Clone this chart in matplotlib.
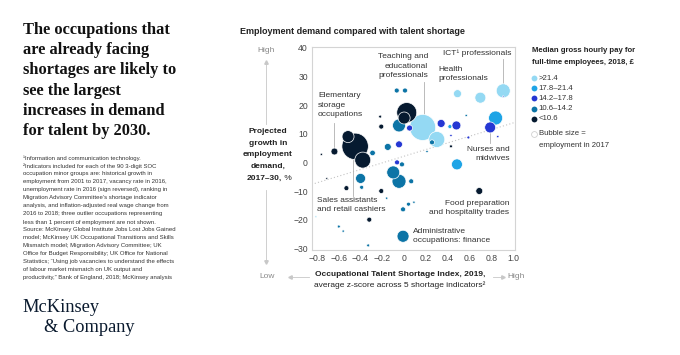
import matplotlib
matplotlib.use("Agg")
import matplotlib.pyplot as plt
from matplotlib.lines import Line2D
import numpy as np

# ---------------- data ----------------
pay_bands = [">21.4", "17.8–21.4", "14.2–17.8", "10.6–14.2", "<10.6"]
band_colors = ["#94d9f3", "#1ea4e6", "#2537d3", "#0c74a6", "#061a30"]

# Occupational Talent Shortage Index (x), projected growth % (y),
# employment 2017 (thousands), pay band index
shortage_index = [-0.068, 0.008, 0.024, 0.0, 0.17, 0.30, 0.256, 0.49, 0.70, 0.91,
                  0.91, 0.84, 0.79, -0.22, -0.21, -0.047, 0.34, 0.42, 0.48, 0.57,
                  0.86, -0.515, -0.45, -0.38, -0.64, -0.76, -0.29, -0.15, -0.047, -0.10,
                  -0.047, -0.065, -0.02, 0.065, -0.71, -0.40, -0.39, -0.53, -0.21, -0.16,
                  0.04, 0.09, -0.01, -0.32, -0.60, -0.56, -0.01, -0.33, 0.485, 0.43,
                  0.69, 0.43, 0.59, 0.21, -0.81, 0.05]
demand_growth = [25.1, 25.1, 17.4, 15.5, 12.2, 8.0, 7.0, 24.0, 22.6, 25.0,
                 23.0, 15.5, 12.2, 16.0, 12.5, 12.9, 13.6, 12.5, 12.9, 16.4,
                 9.0, 9.0, 5.6, 0.8, 3.8, 2.8, 3.3, 5.4, 6.3, -3.5,
                 -6.6, 0.0, -0.7, -6.6, -5.6, -5.6, -8.7, -9.0, -10.0, -12.5,
                 -14.6, -13.9, -16.4, -20.0, -22.4, -24.0, -25.8, -29.0, -0.7, 5.6,
                 -10.0, 9.4, 8.7, 3.8, -19.0, 12.0]
employment_k = [62, 62, 1000, 360, 1690, 640, 62, 160, 300, 490,
                6, 490, 300, 22, 62, 420, 160, 40, 200, 14,
                14, 360, 1750, 640, 120, 14, 78, 120, 120, 420,
                490, 62, 62, 62, 10, 250, 40, 62, 62, 14,
                40, 14, 62, 62, 22, 14, 360, 22, 300, 22,
                120, 14, 22, 14, 10, 90]
pay_band = [3, 3, 4, 4, 0, 0, 3, 0, 0, 0,
            2, 1, 2, 4, 4, 3, 2, 1, 2, 3,
            2, 4, 4, 4, 4, 4, 3, 3, 2, 3,
            3, 2, 3, 3, 4, 3, 3, 4, 4, 3,
            3, 3, 3, 4, 3, 3, 3, 3, 1, 4,
            4, 2, 2, 3, 0, 2]

trend_x = [-0.85, 1.02]
trend_y = [-7.7, 14.0]

x_ticks = [-0.8, -0.6, -0.4, -0.2, 0, 0.2, 0.4, 0.6, 0.8, 1.0]
y_ticks = [-30, -20, -10, 0, 10, 20, 30, 40]

annotations = [
    ("Teaching and\neducational\nprofessionals", 0.219, 33.6, "right"),
    ("ICT¹ professionals", 0.981, 38.0, "right"),
    ("Health\nprofessionals", 0.311, 30.8, "left"),
    ("Elementary\nstorage\noccupations", -0.791, 20.0, "left"),
    ("Sales assistants\nand retail cashiers", -0.80, -15.0, "left"),
    ("Nurses and\nmidwives", 0.972, 2.8, "right"),
    ("Food preparation\nand hospitality trades", 0.963, -16.0, "right"),
    ("Administrative\noccupations: finance", 0.08, -25.6, "left"),
]
leaders = [
    ([0.183, 0.183], [28.0, 16.4]),
    ([0.908, 0.908], [36.0, 27.5]),
    ([-0.644, -0.644], [13.6, 5.0]),
    ([-0.47, -0.47], [1.0, -11.6]),
    ([0.79, 0.79], [10.2, 6.6]),
]

headline = ["The occupations that", "are already facing", "shortages are likely to",
            "see the largest", "increases in demand", "for talent by 2030."]
footnotes = [
    "¹Information and communication technology.",
    "²Indicators included for each of the 90 3-digit SOC",
    "occupation minor groups are: historical growth in",
    "employment from 2001 to 2017, vacancy rate in 2016,",
    "unemployment rate in 2016 (sign reversed), ranking in",
    "Migration Advisory Committee’s shortage indicator",
    "analysis, and inflation-adjusted real wage change from",
    "2016 to 2018; three outlier occupations representing",
    "less than 1 percent of employment are not shown.",
    "Source: McKinsey Global Institute Jobs Lost Jobs Gained",
    "model; McKinsey UK Occupational Transitions and Skills",
    "Mismatch model; Migration Advisory Committee; UK",
    "Office for Budget Responsibility; UK Office for National",
    "Statistics; “Using job vacancies to understand the effects",
    "of labour market mismatch on UK output and",
    "productivity,” Bank of England, 2018; McKinsey analysis",
]

# ---------------- figure ----------------
W, H = 680, 355
plt.rcParams['font.family'] = ['Liberation Sans', 'DejaVu Sans']
fig = plt.figure(figsize=(W / 100, H / 100), dpi=100)
fig.patch.set_facecolor("white")


def fx(px):
    return px / W


def fy(py):
    return 1 - py / H


SANS = ['Liberation Sans', 'DejaVu Sans']
SERIF = ['Liberation Serif', 'DejaVu Serif']
TXT = "#222222"
GRAY = "#8a8a8a"

# headline
for i, line in enumerate(headline):
    fig.text(fx(23), fy(30 + i * 20.2), line, family=SERIF, fontweight="bold",
             fontsize=11.8, color="#111111", va="center", ha="left")

# footnotes
for i, line in enumerate(footnotes):
    fig.text(fx(23), fy(158 + i * 8.0), line, family=SANS, fontsize=4.3,
             color="#333333", va="center", ha="left")

# logo
fig.text(fx(22), fy(308), "McKinsey", family=SERIF, fontsize=13.2, color="#0a1a2e",
         va="center", ha="left")
fig.text(fx(44), fy(327), "& Company", family=SERIF, fontsize=13.2, color="#0a1a2e",
         va="center", ha="left")

# chart title
fig.text(fx(240), fy(31), "Employment demand compared with talent shortage",
         family=SANS, fontweight="bold", fontsize=6.5, color=TXT, va="center", ha="left")

# axes
ax = fig.add_axes([fx(312), fy(250), fx(515) - fx(312), fy(47) - fy(250)])
ax.set_xlim(-0.846, 1.018)
ax.set_ylim(-30.6, 40.3)
for sp in ax.spines.values():
    sp.set_color("#d4d4d4")
    sp.set_linewidth(0.8)
ax.set_xticks(x_ticks)
ax.set_xticklabels([("−" if v < 0 else "") + (f"{abs(v):.1f}" if v != 0 else "0")
                    for v in x_ticks])
ax.set_yticks(y_ticks)
ax.set_yticklabels([("−" if v < 0 else "") + str(abs(v)) for v in y_ticks])
ax.tick_params(length=0, labelsize=6.2, labelcolor="#444444", pad=3)

ax.plot(trend_x, trend_y, linestyle=(0, (1, 2)), color="#c4c4c4", lw=0.8, zorder=1)

sx = np.array(shortage_index)
sy = np.array(demand_growth)
se = np.array(employment_k, dtype=float)
sb = np.array(pay_band)
order = np.argsort(-se)
ax.scatter(sx[order], sy[order], s=se[order] * 0.207,
           c=[band_colors[b] for b in sb[order]],
           edgecolors="white", linewidths=0.5, zorder=2)

for (lx, ly) in leaders:
    ax.plot(lx, ly, color="#b0b0b0", lw=0.6, zorder=1.5)

for text, x, y, ha in annotations:
    ax.text(x, y, text, ha=ha, va="center", fontsize=6, color="#333333",
            linespacing=1.45, zorder=4)

# y axis label with arrows
fig.text(fx(266), fy(51), "High", fontsize=6, color=GRAY, ha="center", va="center")
ylabel_lines = ["Projected", "growth in", "employment", "demand,"]
for i, l in enumerate(ylabel_lines):
    fig.text(fx(268), fy(132 + i * 11.5), l, fontsize=6, fontweight="bold",
             color=TXT, ha="center", va="center")
fig.text(fx(268) - 0.005, fy(178), "2017–30,", fontsize=6, fontweight="bold",
         color=TXT, ha="center", va="center")
fig.text(fx(282), fy(178), " %", fontsize=6, color=TXT, ha="left", va="center")
fig.add_artist(Line2D([fx(266), fx(266)], [fy(124), fy(62)], color="#c8c8c8", lw=0.6))
fig.add_artist(Line2D([fx(266)], [fy(62)], marker="^", ms=2.5, color="#c8c8c8"))
fig.add_artist(Line2D([fx(266), fx(266)], [fy(190), fy(261)], color="#c8c8c8", lw=0.6))
fig.add_artist(Line2D([fx(266)], [fy(262)], marker="v", ms=2.5, color="#c8c8c8"))
fig.text(fx(267), fy(277), "Low", fontsize=6, color=GRAY, ha="center", va="center")

# x axis label with arrows
fig.text(fx(400), fy(274), "Occupational Talent Shortage Index, 2019,", fontsize=6,
         fontweight="bold", color=TXT, ha="center", va="center")
fig.text(fx(400), fy(285.5), "average z-score across 5 shortage indicators²", fontsize=6,
         color=TXT, ha="center", va="center")
fig.add_artist(Line2D([fx(290), fx(309)], [fy(277), fy(277)], color="#c8c8c8", lw=0.6))
fig.add_artist(Line2D([fx(290)], [fy(277)], marker="<", ms=2.5, color="#c8c8c8"))
fig.add_artist(Line2D([fx(493), fx(503)], [fy(277), fy(277)], color="#c8c8c8", lw=0.6))
fig.add_artist(Line2D([fx(503)], [fy(277)], marker=">", ms=2.5, color="#c8c8c8"))
fig.text(fx(507), fy(277), "High", fontsize=6, color=GRAY, ha="left", va="center")

# legend
fig.text(fx(532), fy(50), "Median gross hourly pay for", fontsize=5.6,
         fontweight="bold", color=TXT, ha="left", va="center")
fig.text(fx(532), fy(62), "full-time employees, 2018, £", fontsize=5.6,
         fontweight="bold", color=TXT, ha="left", va="center")
for i, (lab, col) in enumerate(zip(pay_bands, band_colors)):
    yy = 78 + i * 10.2
    fig.add_artist(Line2D([fx(533.5)], [fy(yy)], marker="o", ms=4.2, color=col,
                          markeredgewidth=0))
    fig.text(fx(538.5), fy(yy), lab, fontsize=5.6, color="#333333", ha="left", va="center")
fig.add_artist(Line2D([fx(533.5)], [fy(134)], marker="o", ms=4.2,
                      markerfacecolor="white", markeredgecolor="#d0d0d0",
                      markeredgewidth=0.6))
fig.text(fx(539), fy(134), "Bubble size =", fontsize=5.6, color="#333333",
         ha="left", va="center")
fig.text(fx(539), fy(145.5), "employment in 2017", fontsize=5.6, color="#333333",
         ha="left", va="center")

fig.savefig("out.png", dpi=100, facecolor="white")
